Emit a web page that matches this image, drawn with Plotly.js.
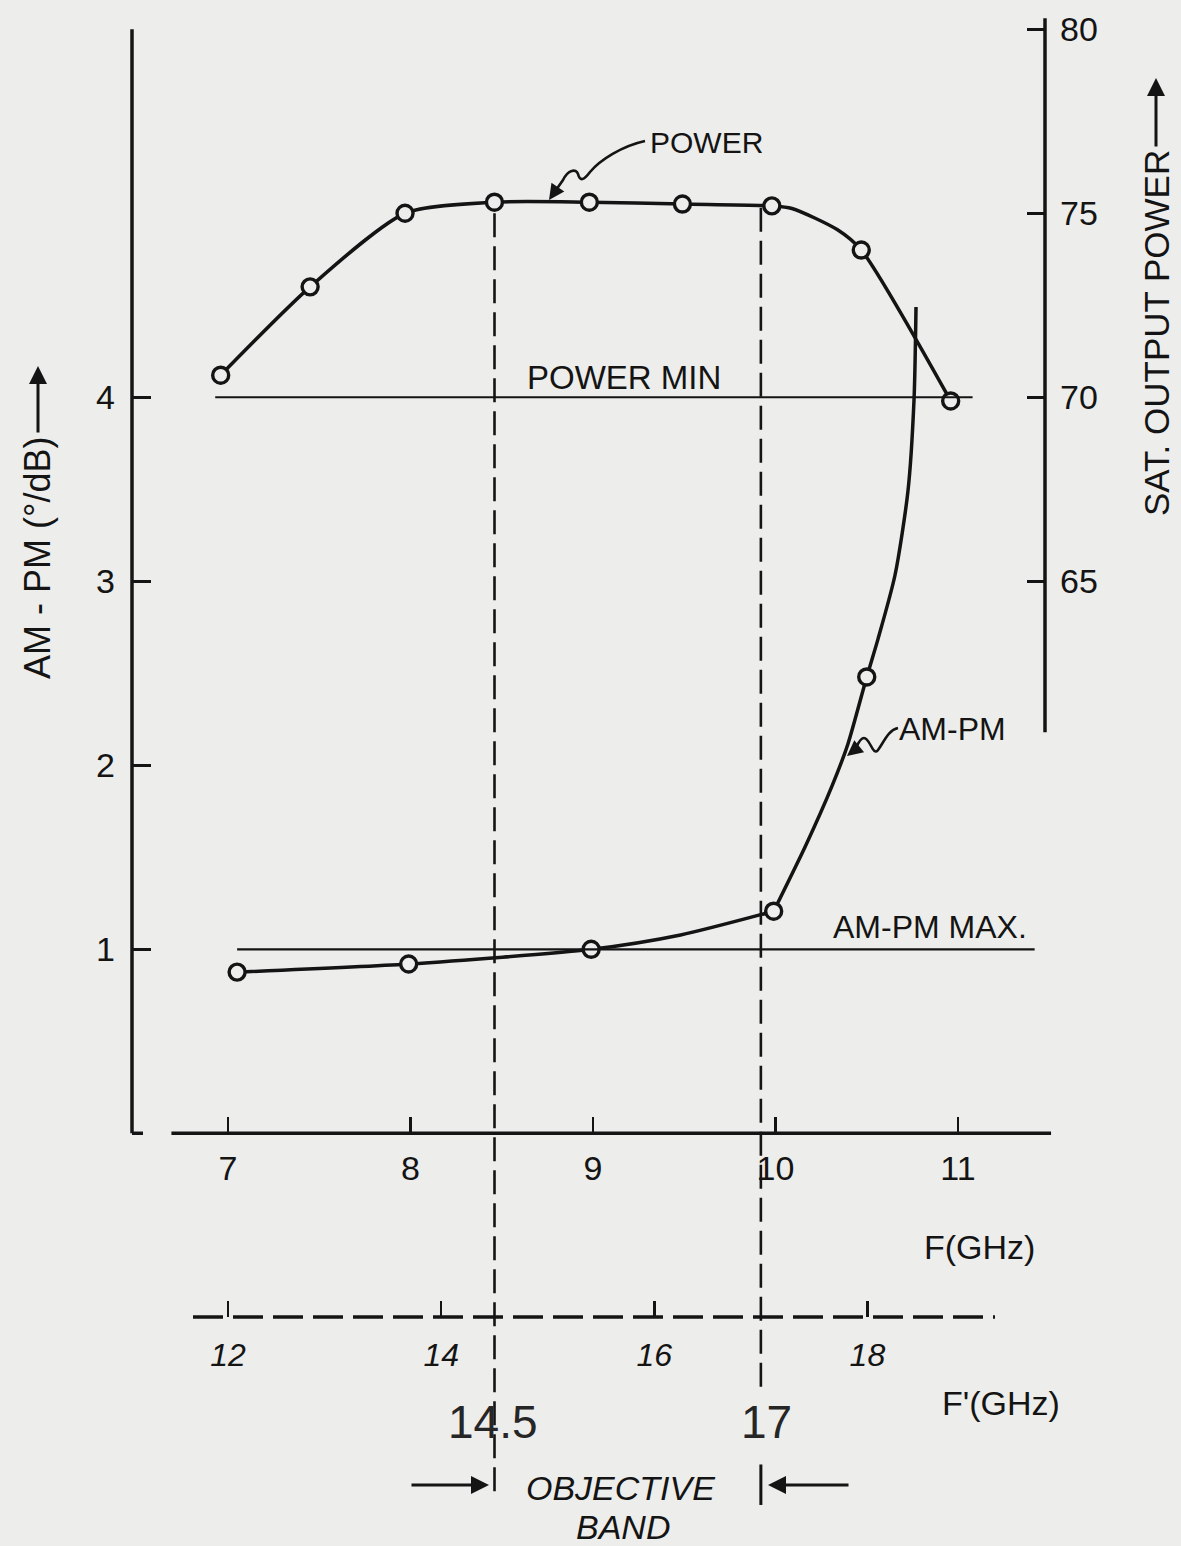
<!DOCTYPE html>
<html><head><meta charset="utf-8">
<script src="https://cdn.plot.ly/plotly-3.0.1.min.js"></script>
<style>html,body{margin:0;padding:0;background:#ededeb;} #chart{width:1181px;height:1546px;}</style>
</head><body><div id="chart"></div>
<script>
// ---------------- data ----------------
const powerF   = [6.96, 7.45, 7.97, 8.46, 8.98, 9.49, 9.98, 10.47, 10.96];
const powerDbm = [70.6, 73.0, 75.0, 75.3, 75.3, 75.25, 75.2, 74.0, 69.9];
const ampmF    = [7.05, 7.99, 8.99, 9.99, 10.50];
const ampmVal  = [0.876, 0.92, 1.0, 1.207, 2.48];
// drawn curves (markers plus points)
const powerCurveF   = [6.96, 7.45, 7.97, 8.46, 8.98, 9.49, 9.98, 10.09, 10.34, 10.47, 10.96];
const powerCurveDbm = [70.6, 73.0, 75.0, 75.3, 75.3, 75.25, 75.2, 75.13, 74.55, 74.0, 69.9];
// AM-PM curve: gentle part up to the 10 GHz point, then the steep rise
const ampmLowF    = [7.05, 7.99, 8.99, 9.48, 9.99];
const ampmLowVal  = [0.876, 0.92, 1.0, 1.078, 1.207];
const ampmHighF   = [9.99, 10.167, 10.31, 10.397, 10.50, 10.562, 10.655, 10.726, 10.759, 10.77];
const ampmHighVal = [1.207, 1.567, 1.888, 2.116, 2.48, 2.687, 3.034, 3.491, 3.985, 4.491];
const fTicks      = [7, 8, 9, 10, 11];
const fPrimeTicks = [12, 14, 16, 18];
const ampmTicks   = [1, 2, 3, 4];
const powerTicks  = [65, 70, 75, 80];
const POWER_MIN = 70;
const AMPM_MAX  = 1;
const BAND = [14.5, 17];

// ---------------- geometry / style ----------------
const W = 1181, H = 1546;
const BG = '#ededeb', INK = '#141414';
const FONT = 'Liberation Sans, Arial, sans-serif';
const px = x => x / W, py = y => 1 - y / H;
const X_RANGE  = [5.7507, 12.222];
const Y_RANGE  = [-2.243, 6.159];
const Y2_RANGE = [50 + 5 * Y_RANGE[0], 50 + 5 * Y_RANGE[1]];
const X2_RANGE = [9.859, 20.943];

function pathP(cmds) {
  return cmds.map(c => c[0] + ' ' + c.slice(1).reduce((a, v, i) =>
    a + (i % 2 === 0 ? px(v).toFixed(5) : ',' + py(v).toFixed(5) + ' '), '')).join(' ');
}

const curveLine = {shape: 'spline', smoothing: 0.7, width: 3.5, color: INK};
const ringMarker = {symbol: 'circle', size: 16, color: BG, line: {width: 3.4, color: INK}};
const traces = [
  {x: powerCurveF, y: powerCurveDbm, yaxis: 'y2', mode: 'lines', line: curveLine, hoverinfo: 'skip'},
  {x: ampmLowF, y: ampmLowVal, mode: 'lines', line: curveLine, hoverinfo: 'skip'},
  {x: ampmHighF, y: ampmHighVal, mode: 'lines', line: curveLine, hoverinfo: 'skip'},
  {x: powerF, y: powerDbm, yaxis: 'y2', mode: 'markers', marker: ringMarker},
  {x: ampmF, y: ampmVal, mode: 'markers', marker: ringMarker}
];

const tickBase = {ticks: 'inside', tickcolor: INK, tickwidth: 2.5, showgrid: false,
  zeroline: false, showline: false, fixedrange: true};

const L = (o) => Object.assign({type: 'line', layer: 'above', line: {color: INK, width: 3.5}}, o);

const shapes = [
  // axis lines
  L({xref: 'paper', yref: 'y', x0: px(132), x1: px(132), y0: 0, y1: 6.0}),
  L({xref: 'paper', yref: 'y', x0: px(132), x1: px(143), y0: 0, y1: 0}),
  L({xref: 'x', yref: 'y', x0: 6.69, x1: 11.51, y0: 0, y1: 0}),
  L({xref: 'paper', yref: 'y2', x0: px(1045), x1: px(1045), y0: 60.9, y1: 80.3}),
  L({xref: 'paper', yref: 'paper', x0: px(193), x1: px(995), y0: py(1317), y1: py(1317),
     line: {color: INK, width: 3.5, dash: '30px,10px'}}),
  // limit lines
  L({xref: 'x', yref: 'y2', x0: 6.93, x1: 11.08, y0: POWER_MIN, y1: POWER_MIN, line: {color: INK, width: 2.2}}),
  L({xref: 'x', yref: 'y', x0: 7.05, x1: 11.42, y0: AMPM_MAX, y1: AMPM_MAX, line: {color: INK, width: 2.2}}),
  // objective band dashed verticals
  L({xref: 'x2', yref: 'y', x0: BAND[0], x1: BAND[0], y0: 5.0, y1: -1.98,
     line: {color: INK, width: 2.6, dash: '24px,9px'}}),
  L({xref: 'x2', yref: 'y', x0: BAND[1], x1: BAND[1], y0: 5.03, y1: -1.38,
     line: {color: INK, width: 2.6, dash: '24px,9px'}}),
  L({xref: 'x2', yref: 'y', x0: BAND[1], x1: BAND[1], y0: -1.80, y1: -2.02, line: {color: INK, width: 3}}),
  // squiggly pointers
  {type: 'path', xref: 'paper', yref: 'paper', layer: 'above', line: {color: INK, width: 2.6},
   path: pathP([['M', 645, 141], ['C', 622, 146, 600, 160, 590, 172], ['C', 584, 180, 580, 182, 578, 174],
                ['C', 576, 168, 568, 170, 563, 180], ['L', 556, 190]])},
  {type: 'path', xref: 'paper', yref: 'paper', layer: 'above', line: {color: INK, width: 2.6},
   path: pathP([['M', 898, 728], ['C', 888, 730, 884, 742, 878, 750], ['C', 873, 757, 870, 738, 864, 738],
                ['C', 860, 738, 858, 744, 856, 748]])}
];

const T = (text, x, y, size, extra) => Object.assign({text: text, xref: 'paper', yref: 'paper',
  x: px(x), y: py(y), xanchor: 'center', yanchor: 'middle', showarrow: false,
  font: {family: FONT, size: size, color: INK}}, extra || {});
const A = (x, y, tx, ty, w) => ({text: '', xref: 'paper', yref: 'paper', x: px(x), y: py(y),
  ax: tx - x, ay: ty - y, showarrow: true, arrowhead: 2, arrowsize: 1.2, arrowwidth: w || 3,
  arrowcolor: INK, standoff: 0, startstandoff: 0});

const annotations = [
  T('AM - PM (°/dB)', 38, 558, 36, {textangle: -90}),
  A(38, 366, 38, 434),
  T('SAT. OUTPUT POWER', 1156, 333, 35, {textangle: -90}),
  A(1156, 78, 1156, 148),
  T('POWER', 706, 142, 30),
  A(549, 200, 558, 187, 2.6),
  T('POWER MIN', 624, 377, 33),
  T('AM-PM MAX.', 930, 927, 32),
  T('AM-PM', 952, 729, 32),
  A(847, 756, 857, 748, 2.6),
  T('F(GHz)', 980, 1247, 34),
  T("F'(GHz)", 1001, 1403, 34),
  T('14.5', 493, 1422, 46, {font: {family: FONT, size: 46, color: '#262626'}}),
  T('17', 766, 1422, 46, {font: {family: FONT, size: 46, color: '#262626'}}),
  T('OBJECTIVE', 620, 1488, 34, {font: {family: FONT, size: 34, color: INK, style: 'italic'}}),
  T('BAND', 623, 1527, 34, {font: {family: FONT, size: 34, color: INK, style: 'italic'}}),
  A(489, 1485, 410, 1485),
  A(768, 1485, 850, 1485)
];

const layout = {
  width: W, height: H, margin: {l: 0, r: 0, t: 0, b: 0},
  paper_bgcolor: BG, plot_bgcolor: BG, showlegend: false,
  xaxis: Object.assign({}, tickBase, {range: X_RANGE, anchor: 'free', position: py(1133),
    tickvals: fTicks, ticklen: 16, ticklabelstandoff: 12,
    tickfont: {family: FONT, size: 34, color: INK}}),
  xaxis2: Object.assign({}, tickBase, {overlaying: 'x', range: X2_RANGE, anchor: 'free', position: py(1317),
    tickvals: fPrimeTicks, ticklen: 16, ticklabelstandoff: 16,
    tickfont: {family: FONT, size: 32, color: INK, style: 'italic'}}),
  yaxis: Object.assign({}, tickBase, {range: Y_RANGE, anchor: 'free', position: px(132),
    tickvals: ampmTicks, ticklen: 18, ticklabelstandoff: 17,
    tickfont: {family: FONT, size: 34, color: INK}}),
  yaxis2: Object.assign({}, tickBase, {overlaying: 'y', side: 'right', range: Y2_RANGE, anchor: 'free',
    position: px(1045), tickvals: powerTicks, ticklen: 18, ticklabelstandoff: 14,
    tickfont: {family: FONT, size: 34, color: INK}}),
  shapes: shapes, annotations: annotations
};

Plotly.newPlot('chart', traces, layout, {staticPlot: true, displayModeBar: false});
</script></body></html>
